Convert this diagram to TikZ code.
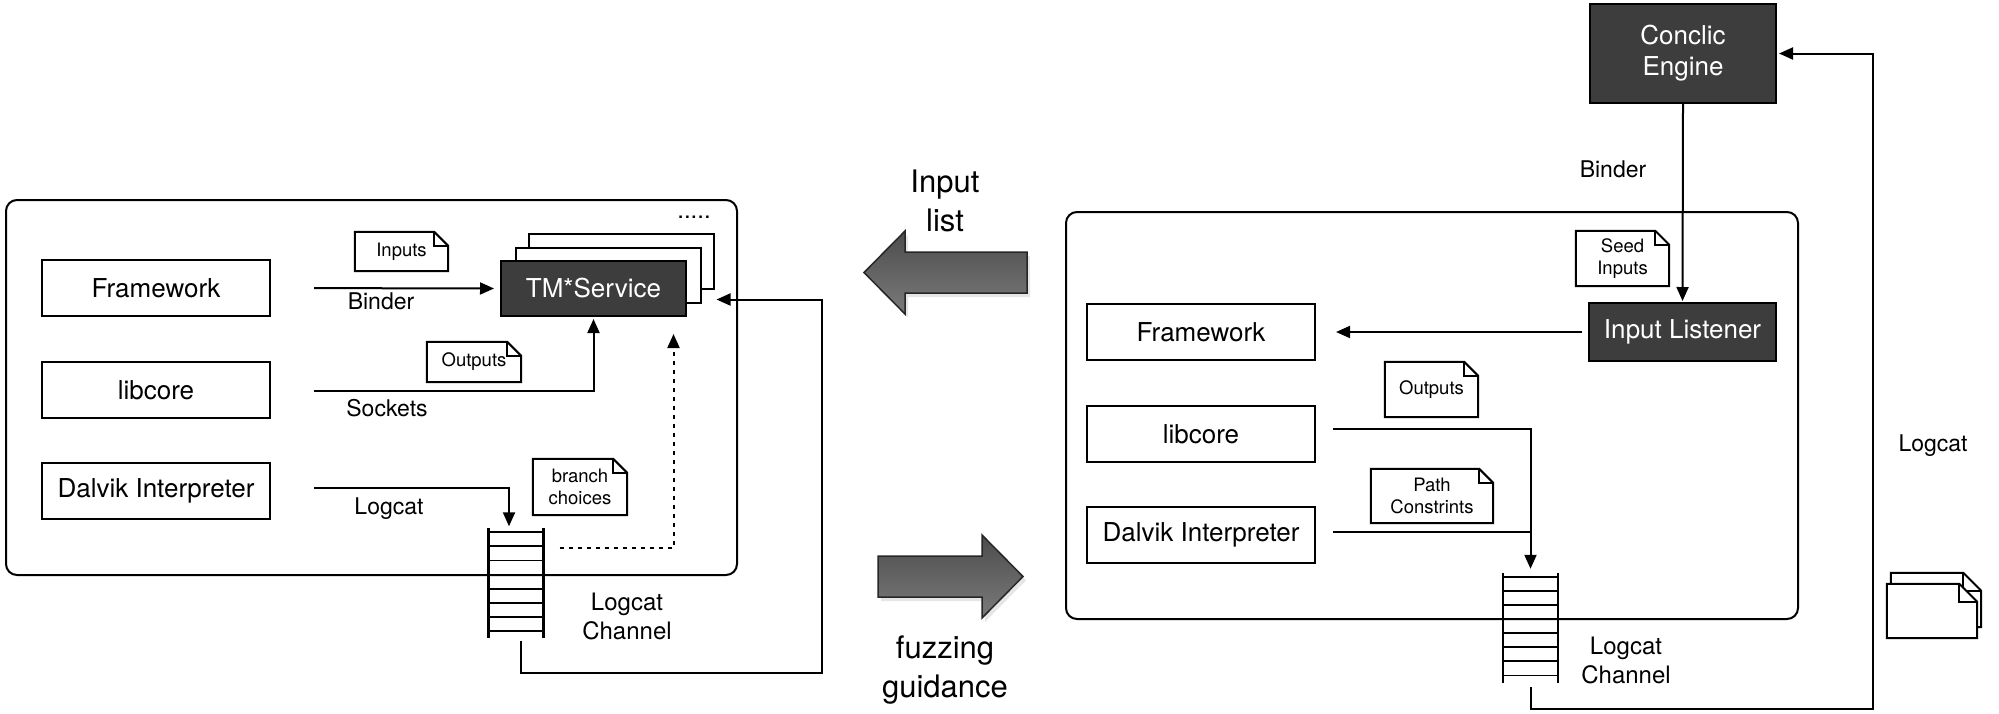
\documentclass[tikz,border=0pt]{standalone}
\usepackage{fontspec}
\setmainfont{TeX Gyre Heros}
\usetikzlibrary{arrows.meta,shadows}
% note sheet with a folded corner: [options]{node}{fold}
\newcommand\docnote[3][]{%
  \draw[wire,#1] (#2.south west) -- (#2.north west) -- ([xshift=-#3]#2.north east) -- ([yshift=-#3]#2.north east) -- (#2.south east) -- cycle;
  \draw[wire] ([xshift=-#3]#2.north east) |- ([yshift=-#3]#2.north east);}
% logcat queue drawn on a named node
\newcommand\logqueue[1]{%
  \draw[line width=2.5pt] (#1.north west) -- (#1.south west);
  \draw[line width=2.5pt] (#1.north east) -- (#1.south east);
  \foreach \k in {0,...,7}
    \draw[line width=1.9pt] ([yshift=-4pt-\k*14.1pt]#1.north west) -- ([yshift=-4pt-\k*14.1pt]#1.north east);}

\begin{document}
\begin{tikzpicture}[x=1pt,y=-1pt,
  comp/.style={draw, line width=2pt, minimum width=228pt, minimum height=56pt, inner sep=0pt, font=\fontsize{26}{31}\selectfont},
  darkcomp/.style={comp, fill=black!76, text=white, align=center},
  stackbox/.style={draw, line width=2pt, fill=white, minimum width=185pt, minimum height=55pt},
  note/.style={inner sep=0pt, align=center, font=\fontsize{18.5}{22}\selectfont},
  lbl/.style={anchor=base, font=\fontsize{23}{28}\selectfont},
  lbltwo/.style={align=center, font=\fontsize{24}{28.5}\selectfont},
  biglbl/.style={align=center, font=\fontsize{31}{39}\selectfont},
  wire/.style={line width=2pt},
  conn/.style={wire, -{Triangle[length=14pt,width=12pt]}},
  panel/.style={draw, line width=2pt, rounded corners=11pt},
  qbox/.style={minimum width=55pt, minimum height=109pt, inner sep=0pt},
  fatarrow/.style={draw=black!85, line width=1.5pt, top color=black!70, middle color=black!32, bottom color=black!52,
    drop shadow={opacity=0.2, shadow xshift=3pt, shadow yshift=-4pt}}]
	%%%%% START %%%%%
	\useasboundingbox (0,0) rectangle (1999,713);
	
	%%%%% left side
	\node[panel, minimum width=731pt, minimum height=375pt] (lpanel) at (371.5,387.5) {};
	
	\node[comp] (fw1) at (156,288) {Framework};
	\node[comp] (lc1) at (156,390) {libcore};
	\node[comp] (dv1) at (156,491) {Dalvik Interpreter};
	
	\node[stackbox] (tm3) at (621.5,261) {};
	\node[stackbox] (tm2) at (608,275.5) {};
	\node[darkcomp, minimum width=185pt, minimum height=55pt] (tm) at (593.5,288.5) {TM*Service};
	\node[anchor=base, font=\fontsize{24}{24}\selectfont] (more) at (694,218) {.....};
	
	\node[note, minimum width=93pt, minimum height=39pt] (inp1) at (401.5,251.5) {Inputs};
	\docnote{inp1}{14pt}
	\node[note, minimum width=94pt, minimum height=40pt] (out1) at (474,362) {Outputs};
	\docnote{out1}{14pt}
	\node[note, minimum width=94pt, minimum height=56pt] (br1) at (580,487) {branch\\choices};
	\docnote{br1}{14pt}
	
	\node[qbox] (q1) at (516,583) {};
	\logqueue{q1}
	
	\node[lbl] (binder1) at (381,309) {Binder};
	\node[lbl] (sock1) at (387,416) {Sockets};
	\node[lbl] (logcat1) at (389,514) {Logcat};
	\node[lbltwo] (chan1) at (627,616.5) {Logcat\\Channel};
	
	\draw[conn, shorten <=43pt, shorten >=6pt] (fw1.east) -- (tm.west);
	\draw[conn, shorten <=43pt, shorten >=2pt] ([yshift=-1pt]lc1.east) -| (tm.south);
	\draw[conn, shorten <=43pt, shorten >=2pt] ([yshift=3pt]dv1.east) -| ([xshift=-7pt]q1.north);
	\draw[wire, dash pattern=on 4pt off 5pt, -{Triangle[length=14pt,width=12pt]}] ([xshift=16pt,yshift=35pt]q1.east) -| ([xshift=80pt,yshift=-17pt]tm.south);
	\coordinate (lret) at (822,673);
	\draw[conn] ([xshift=4.5pt,yshift=-3pt]q1.south) |- (lret) |- ([xshift=15pt,yshift=-24pt]tm2.east);
	
	%%%%% middle
	\path[fatarrow] (1027,252) -- (905,252) -- (905,231) -- (864,272.5) -- (905,314) -- (905,293) -- (1027,293) -- cycle;
	\path[fatarrow] (878,556) -- (982,556) -- (982,535) -- (1023,576.5) -- (982,618) -- (982,597) -- (878,597) -- cycle;
	\node[biglbl] (inlist) at (945,201) {Input\\list};
	\node[biglbl] (fuzz) at (945,670) {fuzzing\\guidance};
	
	%%%%% right side
	\node[panel, minimum width=732pt, minimum height=407pt] (rpanel) at (1432,415.5) {};
	
	\node[darkcomp, minimum width=186pt, minimum height=99pt] (ce) at (1683,53.5) {Conclic\\Engine};
	\node[darkcomp, minimum width=187pt, minimum height=58pt] (il) at (1682.5,332) {Input Listener};
	
	\node[comp] (fw2) at (1201,332) {Framework};
	\node[comp] (lc2) at (1201,434) {libcore};
	\node[comp] (dv2) at (1201,535) {Dalvik Interpreter};
	
	\node[note, minimum width=93pt, minimum height=55pt] (seed) at (1622.5,258.5) {Seed\\Inputs};
	\docnote{seed}{14pt}
	\node[note, minimum width=93pt, minimum height=55pt] (out2) at (1431.5,389.5) {Outputs};
	\docnote{out2}{14pt}
	\node[note, minimum width=122pt, minimum height=54pt] (path) at (1432,496) {Path\\Constrints};
	\docnote{path}{14pt}
	
	\node[qbox, minimum height=110pt] (q2) at (1530.5,628) {};
	\logqueue{q2}
	
	\node[lbl] (binder2) at (1613,177) {Binder};
	\node[lbl] (logcat2) at (1933,451) {Logcat};
	\node[lbltwo] (chan2) at (1626,660.5) {Logcat\\Channel};
	
	\node[minimum width=90pt, minimum height=54pt, inner sep=0pt] (logs1) at (1936,600) {};
	\docnote[fill=white]{logs1}{18pt}
	\node[minimum width=90pt, minimum height=54pt, inner sep=0pt] (logs2) at (1932,611) {};
	\docnote[fill=white]{logs2}{18pt}
	
	\draw[conn, shorten >=1pt] (ce.south) -- (il.north);
	\draw[conn, shorten <=6pt, shorten >=20pt] (il.west) -- (fw2.east);
	\draw[conn, shorten <=17pt, shorten >=4pt] ([yshift=5pt]lc2.east) -| (q2.north);
	\coordinate (rjoin) at (1530.5,532);
	\draw[wire, shorten <=17pt] ([yshift=3pt]dv2.east) -- (rjoin);
	\coordinate (rret) at (1873,709);
	\draw[conn, shorten >=2pt] ([yshift=-4pt]q2.south) |- (rret) |- (ce.east);
	
	%%%%% END %%%%%
\end{tikzpicture}
\end{document}
